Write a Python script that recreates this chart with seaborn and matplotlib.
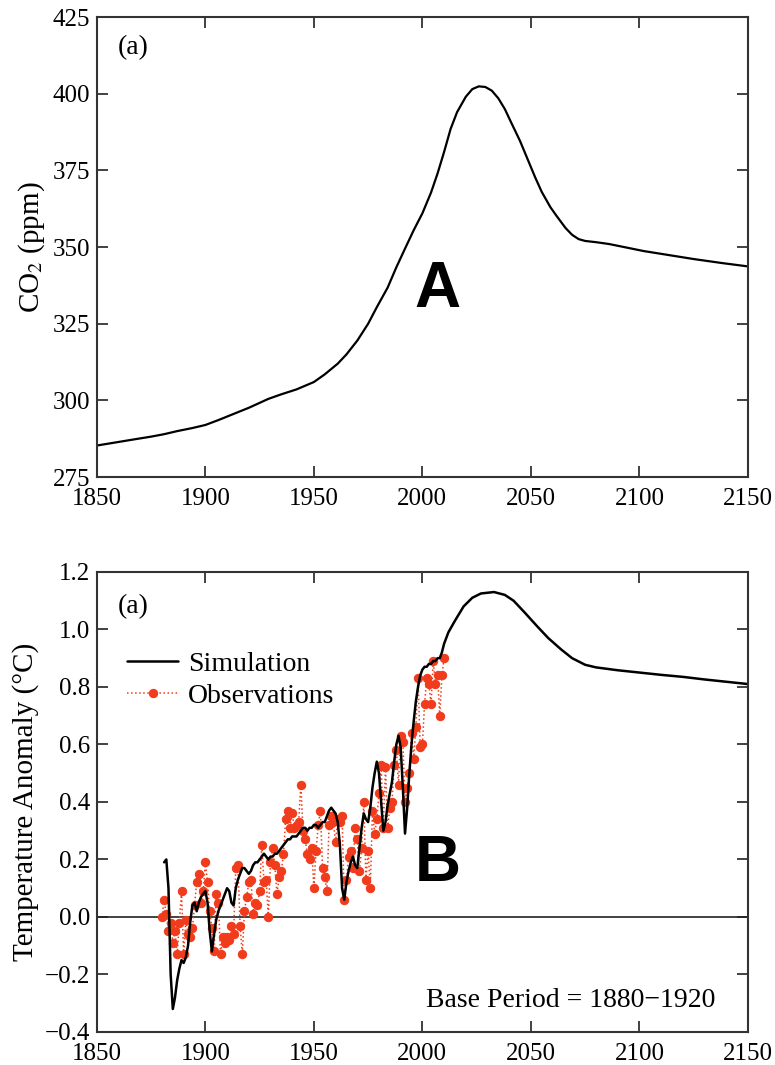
import numpy as np
import seaborn as sns
import matplotlib.pyplot as plt

# 数据：CO2 浓度曲线 (panel A)
co2_years = [1850, 1856, 1862, 1868, 1875, 1881, 1887, 1894, 1900, 1906, 1913, 1920, 1929,
             1935, 1942, 1950, 1955, 1961, 1965, 1970, 1975, 1979, 1984, 1988, 1992, 1996,
             2000, 2004, 2007, 2010, 2013, 2016, 2020, 2023, 2026, 2029, 2032, 2035, 2038,
             2041, 2045, 2048, 2052, 2055, 2059, 2062, 2066, 2069, 2072, 2075, 2080, 2086,
             2093, 2102, 2110, 2125, 2138, 2150]
co2_ppm = [285.3, 286.0, 286.7, 287.4, 288.2, 289.0, 290.0, 291.0, 292.0, 293.6, 295.6, 297.6,
           300.5, 302.0, 303.6, 306.0, 308.5, 312.0, 315.0, 319.5, 325.0, 330.4, 336.8, 343.4,
           349.5, 355.5, 361.0, 367.8, 374.0, 381.0, 388.5, 394.0, 399.0, 401.5, 402.4, 402.2,
           401.0, 398.5, 395.0, 390.5, 384.6, 379.5, 372.7, 368.0, 363.0, 360.0, 356.2, 354.0,
           352.6, 352.0, 351.6, 351.0, 350.0, 348.7, 347.8, 346.1, 344.8, 343.7]

# 数据：模拟温度距平 (panel B)
sim_years = list(range(1881, 2011)) + [2012, 2015, 2019, 2023, 2027, 2033, 2038, 2042, 2047,
                                      2053, 2058, 2064, 2069, 2075, 2080, 2090, 2100, 2110,
                                      2120, 2130, 2140, 2150]
sim_vals = [0.19, 0.20, 0.10, -0.20, -0.32, -0.28, -0.22, -0.18, -0.15, -0.16,
            -0.14, -0.10, -0.02, 0.04, 0.05, 0.02, 0.05, 0.07, 0.08, 0.09,
            0.05, -0.05, -0.12, -0.06, -0.01, 0.02, 0.04, 0.06, 0.08, 0.10,
            0.09, 0.05, 0.04, 0.10, 0.13, 0.15, 0.17, 0.17, 0.16, 0.15,
            0.16, 0.18, 0.19, 0.19, 0.20, 0.21, 0.22, 0.21, 0.20, 0.21,
            0.21, 0.22, 0.22, 0.23, 0.24, 0.25, 0.26, 0.27, 0.27, 0.28,
            0.28, 0.28, 0.29, 0.30, 0.31, 0.31, 0.30, 0.31, 0.31, 0.32,
            0.32, 0.31, 0.32, 0.33, 0.33, 0.35, 0.37, 0.38, 0.37, 0.36,
            0.33, 0.25, 0.10, 0.06, 0.12, 0.16, 0.19, 0.21, 0.18, 0.17,
            0.24, 0.31, 0.36, 0.34, 0.33, 0.38, 0.45, 0.50, 0.54, 0.50,
            0.40, 0.30, 0.33, 0.39, 0.43, 0.47, 0.54, 0.60, 0.63, 0.59,
            0.45, 0.29, 0.38, 0.50, 0.60, 0.68, 0.75, 0.80, 0.84, 0.86,
            0.87, 0.87, 0.88, 0.88, 0.89, 0.89, 0.90, 0.90, 0.92, 0.95,
            0.99, 1.03, 1.08, 1.11, 1.125, 1.13, 1.12, 1.10, 1.06,
            1.01, 0.97, 0.93, 0.90, 0.877, 0.868, 0.858, 0.85, 0.842,
            0.835, 0.826, 0.818, 0.81]

# 数据：观测温度距平 1880-2010
obs_years = list(range(1880, 2011))
obs_vals = [0.00, 0.06, 0.01, -0.05, -0.02, -0.09, -0.05, -0.13, -0.02, 0.09,
            -0.13, -0.01, -0.06, -0.07, -0.04, 0.04, 0.12, 0.15, 0.05, 0.09,
            0.19, 0.12, 0.02, -0.04, -0.12, 0.08, 0.05, -0.13, -0.07, -0.09,
            -0.07, -0.08, -0.03, -0.06, 0.17, 0.18, -0.03, -0.13, 0.02, 0.07,
            0.12, 0.13, 0.01, 0.05, 0.04, 0.09, 0.25, 0.12, 0.13, 0.00,
            0.19, 0.24, 0.18, 0.08, 0.14, 0.16, 0.22, 0.34, 0.37, 0.31,
            0.36, 0.31, 0.32, 0.33, 0.46, 0.30, 0.27, 0.22, 0.20, 0.24,
            0.10, 0.23, 0.32, 0.37, 0.17, 0.14, 0.09, 0.32, 0.35, 0.33,
            0.26, 0.34, 0.33, 0.35, 0.06, 0.13, 0.21, 0.23, 0.17, 0.31,
            0.27, 0.16, 0.24, 0.40, 0.13, 0.23, 0.10, 0.37, 0.29, 0.34,
            0.43, 0.53, 0.31, 0.52, 0.31, 0.38, 0.40, 0.53, 0.58, 0.46,
            0.63, 0.61, 0.40, 0.45, 0.50, 0.64, 0.55, 0.66, 0.83, 0.59,
            0.60, 0.74, 0.83, 0.81, 0.74, 0.89, 0.81, 0.84, 0.70, 0.84,
            0.90]

co2_ticks = [275, 300, 325, 350, 375, 400, 425]
temp_ticks = [-0.4, -0.2, 0.0, 0.2, 0.4, 0.6, 0.8, 1.0, 1.2]
temp_labels = ["\u22120.4", "\u22120.2", "0.0", "0.2", "0.4", "0.6", "0.8", "1.0", "1.2"]
year_ticks = [1850, 1900, 1950, 2000, 2050, 2100, 2150]

sns.set_style("ticks", {"text.color": "black", "axes.labelcolor": "black",
                        "xtick.color": "black", "ytick.color": "black"})
plt.rcParams['font.family'] = ['Liberation Serif', 'DejaVu Serif']
plt.rcParams['mathtext.fontset'] = 'stix'

obs_color = "#f03c1c"
fig = plt.figure(figsize=(7.75, 10.65), dpi=100)
ax1 = fig.add_axes([0.125, 0.552, 0.840, 0.432])
ax2 = fig.add_axes([0.125, 0.031, 0.840, 0.432])

# 上图
sns.lineplot(x=co2_years, y=co2_ppm, ax=ax1, color="black", linewidth=1.6)
ax1.set_xlim(1850, 2150)
ax1.set_ylim(275, 425)
ax1.set_yticks(co2_ticks)
ax1.set_ylabel("CO$_2$ (ppm)", fontsize=21, labelpad=4)
ax1.text(1859.5, 415, "(a)", fontsize=20, va="center")
ax1.text(2007, 336, "A", fontsize=46, fontweight="bold", family=["Liberation Sans", "DejaVu Sans"],
         ha="center", va="center")

# 下图
ax2.axhline(0, color="#222222", linewidth=1.2)
sns.lineplot(x=obs_years, y=obs_vals, ax=ax2, color=obs_color, linestyle=":", linewidth=1.1,
             marker="o", markersize=6, markeredgecolor=obs_color, label="Observations")
sns.lineplot(x=sim_years, y=sim_vals, ax=ax2, color="black", linewidth=1.8, label="Simulation")
ax2.set_xlim(1850, 2150)
ax2.set_ylim(-0.4, 1.2)
ax2.set_yticks(temp_ticks)
ax2.set_yticklabels(temp_labels)
ax2.set_ylabel("Temperature Anomaly (\u00b0C)", fontsize=21, labelpad=4)
ax2.text(1859.5, 1.078, "(a)", fontsize=20, va="center")
ax2.text(2007, 0.185, "B", fontsize=46, fontweight="bold", family=["Liberation Sans", "DejaVu Sans"],
         ha="center", va="center")
ax2.text(2068.5, -0.289, "Base Period = 1880\u22121920", fontsize=20, ha="center", va="center")
h, l = ax2.get_legend_handles_labels()
ax2.legend(h[::-1], l[::-1], loc="upper left", bbox_to_anchor=(0.029, 0.852), frameon=False,
           fontsize=20, handlelength=1.85, handletextpad=0.36, labelspacing=0.25, borderaxespad=0)

for ax in (ax1, ax2):
    ax.set_xticks(year_ticks)
    ax.set_xlabel("")
    ax.tick_params(direction="in", top=True, right=True, length=8, width=1.3,
                   labelsize=18, color="#333333")
    ax.tick_params(axis="x", pad=8)
    ax.tick_params(axis="y", pad=5)
    for s in ax.spines.values():
        s.set_linewidth(1.5)
        s.set_color("#333333")

fig.savefig("out.png", dpi=100)
